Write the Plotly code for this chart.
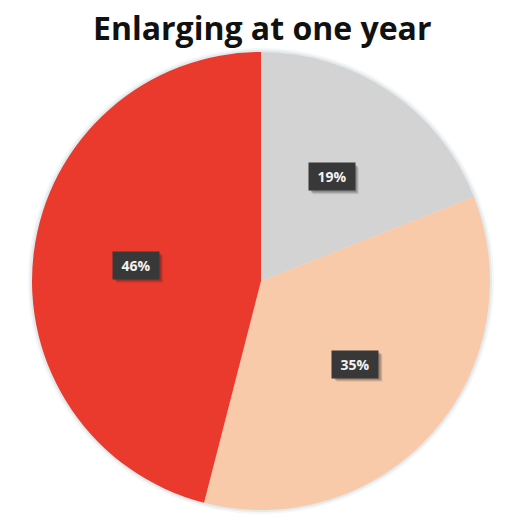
import math
import plotly.graph_objects as go

# Share of cases by category (percent), drawn clockwise from 12 o'clock
categories = ["Gray", "Peach", "Red"]
values = [19, 35, 46]
colors = ["#d3d3d3", "#f8caaa", "#ea3a2d"]
title_text = "Enlarging at one year"

W, H = 513, 514
CX, CY = 261, 281          # pie centre in pixels (from top-left)
R = 229                    # pie radius in pixels
BOX_W, BOX_H = 46, 27      # label box size in pixels
LABEL_R = 0.55             # label distance from centre, as a fraction of R

def dom(r):
    clamp = lambda v: min(1.0, max(0.0, v))
    return dict(x=[clamp((CX - r) / W), clamp((CX + r) / W)],
                y=[clamp((H - CY - r) / H), clamp((H - CY + r) / H)])

fig = go.Figure()

# soft halo behind the pie
for extra, alpha in [(4, 0.14), (2, 0.22)]:
    fig.add_trace(go.Pie(values=[1], labels=["halo"], marker=dict(colors=[f"rgba(175,190,200,{alpha})"]),
                         domain=dom(R + extra), textinfo="none", hoverinfo="skip",
                         showlegend=False, sort=False))

fig.add_trace(go.Pie(
    labels=categories, values=values, sort=False, direction="clockwise", rotation=0,
    marker=dict(colors=colors, line=dict(width=0)),
    textinfo="none", domain=dom(R), showlegend=False,
))

# value labels in dark boxes at each slice's mid angle
total = sum(values)
cum = 0
for v in values:
    mid = (cum + v / 2) / total * 2 * math.pi
    cum += v
    px = CX + LABEL_R * R * math.sin(mid)
    py = CY - LABEL_R * R * math.cos(mid)
    # drop shadow under the box
    for off, a in [(4, 0.10), (3, 0.15), (2, 0.2)]:
        fig.add_shape(type="rect", xref="paper", yref="paper",
                      x0=(px - BOX_W / 2 + off) / W, x1=(px + BOX_W / 2 + off) / W,
                      y0=(H - (py + BOX_H / 2 + off)) / H, y1=(H - (py - BOX_H / 2 + off)) / H,
                      fillcolor=f"rgba(30,30,30,{a})", line=dict(width=0))
    fig.add_annotation(x=px / W, y=(H - py) / H, xref="paper", yref="paper", text=f"{v}%",
                       xanchor="center", yanchor="middle",
                       showarrow=False, width=BOX_W - 10, height=BOX_H - 10, borderpad=5,
                       font=dict(family="Open Sans", size=14, color="#f2f2f2", weight="bold"),
                       bgcolor="#383838")

fig.add_annotation(x=(CX + 1) / W, y=(H - 27) / H, xref="paper", yref="paper",
                   text=title_text, showarrow=False, xanchor="center", yanchor="middle",
                   font=dict(family="Open Sans", size=32, color="#111111", weight="bold"))

fig.update_layout(width=W, height=H, margin=dict(l=0, r=0, t=0, b=0),
                  paper_bgcolor="white", plot_bgcolor="white")

fig.write_html("out.html")
